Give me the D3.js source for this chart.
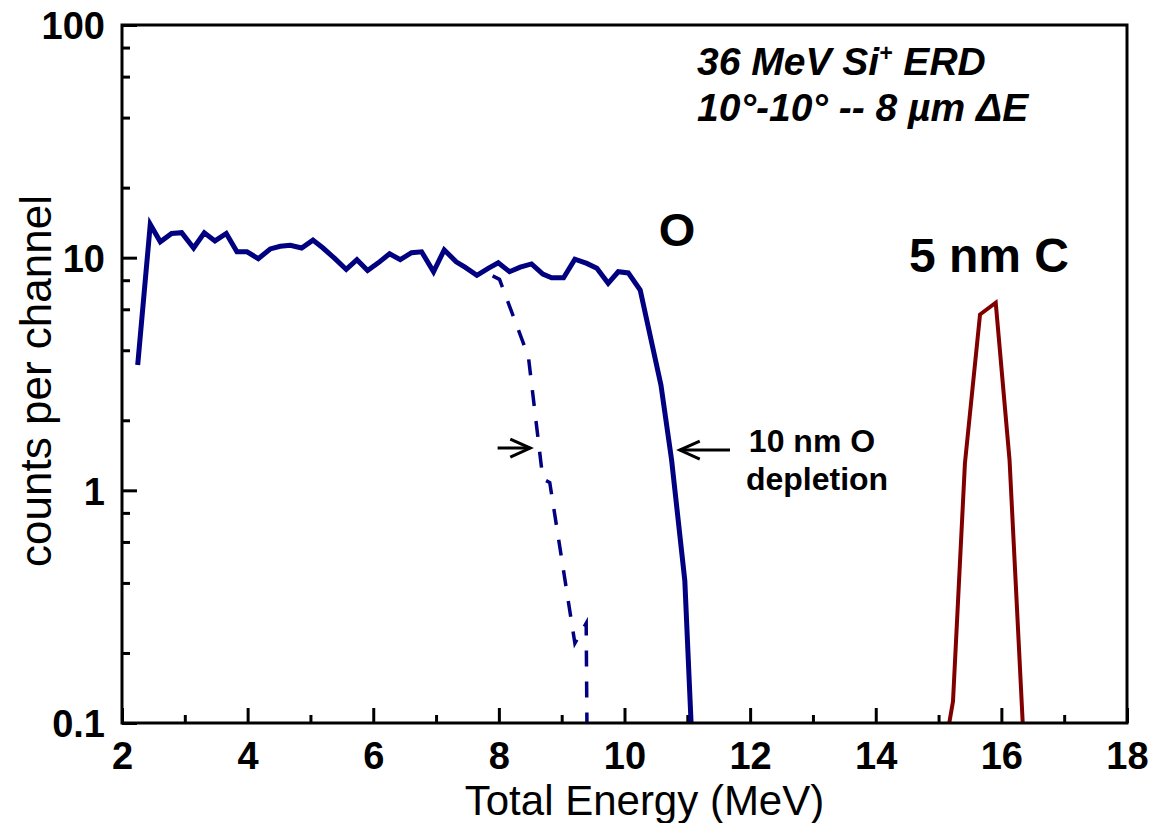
<!DOCTYPE html>
<html>
<head>
<meta charset="utf-8">
<script src="https://cdn.jsdelivr.net/npm/d3@7"></script>
<style>
  html, body { margin: 0; padding: 0; background: #fff; }
  svg { display: block; }
  text { font-family: "Liberation Sans", Arial, Helvetica, sans-serif; fill: #000; }
</style>
</head>
<body>
<svg id="chart" width="1152" height="823"></svg>
<script>
// ERD spectrum: oxygen recoils (solid), oxygen with 10 nm depletion (dashed), carbon surface layer
const oxygenEnergy = [2.25, 2.45, 2.61, 2.79, 2.95, 3.14, 3.31, 3.48, 3.66, 3.83, 3.99, 4.17, 4.36, 4.52,
  4.68, 4.86, 5.04, 5.20, 5.39, 5.57, 5.74, 5.91, 6.08, 6.26, 6.43, 6.61, 6.77, 6.96, 7.13, 7.32, 7.46,
  7.65, 7.83, 7.99, 8.17, 8.34, 8.52, 8.70, 8.84, 9.03, 9.21, 9.40, 9.56, 9.74, 9.90, 10.06, 10.25,
  10.58, 10.75, 10.96, 11.06];
const oxygenCounts = [3.46, 13.9, 11.7, 12.7, 12.8, 11.0, 12.8, 11.8, 12.7, 10.6, 10.6, 9.9, 10.9, 11.2,
  11.3, 11.0, 11.9, 11.0, 9.9, 8.9, 9.8, 8.8, 9.5, 10.4, 9.8, 10.5, 10.6, 8.7, 10.8, 9.6, 9.1,
  8.4, 9.0, 9.5, 8.7, 9.1, 9.4, 8.5, 8.2, 8.2, 9.85, 9.45, 9.0, 7.76, 8.7, 8.6, 7.26,
  2.84, 1.35, 0.41, 0.1];

const depletedEnergy = [7.90, 8.01, 8.47, 8.70, 8.81, 9.21, 9.39, 9.41];
const depletedCounts = [8.35, 8.07, 3.75, 1.12, 1.08, 0.22, 0.268, 0.05];

const carbonEnergy = [15.17, 15.23, 15.42, 15.66, 15.91, 16.13, 16.34];
const carbonCounts = [0.1, 0.124, 1.31, 5.7, 6.4, 1.35, 0.1];

const xMajorTicks = [2, 4, 6, 8, 10, 12, 14, 16, 18];
const xMinorTicks = [3, 5, 7, 9, 11, 13, 15, 17];
const yMajorTicks = [0.1, 1, 10, 100];
const yMinorTicks = [0.2, 0.4, 0.6, 0.8, 2, 4, 6, 8, 20, 40, 60, 80];
const yTickLabels = ["0.1", "1", "10", "100"];

const svg = d3.select("#chart");
const plot = { left: 122, right: 1127, top: 25, bottom: 723 };

const x = d3.scaleLinear().domain([2, 18]).range([plot.left, plot.right]);
const y = d3.scaleLog().domain([0.1, 100]).range([plot.bottom, plot.top]);

svg.append("defs").append("clipPath").attr("id", "plotClip")
  .append("rect")
  .attr("x", plot.left).attr("y", plot.top)
  .attr("width", plot.right - plot.left).attr("height", plot.bottom - plot.top);

// axes with inward ticks
const tickFont = "bold 38px 'Liberation Sans', Arial, sans-serif";

const xAxis = svg.append("g").attr("transform", `translate(0,${plot.bottom})`)
  .call(d3.axisBottom(x).tickValues(xMajorTicks).tickSize(-15).tickPadding(19).tickFormat(d3.format("d")));
svg.append("g").attr("transform", `translate(0,${plot.bottom})`)
  .call(d3.axisBottom(x).tickValues(xMinorTicks).tickSize(-8).tickFormat(""));

const yAxis = svg.append("g").attr("transform", `translate(${plot.left},0)`)
  .call(d3.axisLeft(y).tickValues(yMajorTicks).tickSize(-15).tickPadding(17)
    .tickFormat((d, i) => yTickLabels[i]));
svg.append("g").attr("transform", `translate(${plot.left},0)`)
  .call(d3.axisLeft(y).tickValues(yMinorTicks).tickSize(-8).tickFormat(""));

svg.selectAll(".domain").remove();
svg.selectAll(".tick line").attr("stroke", "#000").attr("stroke-width", 3);
svg.selectAll(".tick text").style("font", tickFont).attr("fill", "#000");
xAxis.selectAll(".tick text").attr("dy", "0.71em");
yAxis.selectAll(".tick text").attr("dy", "0.36em");

// data lines
const line = d3.line().x(d => x(d[0])).y(d => y(d[1]));
const lines = svg.append("g").attr("clip-path", "url(#plotClip)");

lines.append("path")
  .datum(oxygenEnergy.map((e, i) => [e, oxygenCounts[i]]))
  .attr("d", line).attr("fill", "none")
  .attr("stroke", "#000080").attr("stroke-width", 5).attr("stroke-linejoin", "miter");

lines.append("path")
  .datum(depletedEnergy.map((e, i) => [e, depletedCounts[i]]))
  .attr("d", line).attr("fill", "none")
  .attr("stroke", "#000080").attr("stroke-width", 3.5)
  .attr("stroke-dasharray", "16,15");

lines.append("path")
  .datum(carbonEnergy.map((e, i) => [e, carbonCounts[i]]))
  .attr("d", line).attr("fill", "none")
  .attr("stroke", "#800000").attr("stroke-width", 4);

// frame
svg.append("rect")
  .attr("x", plot.left).attr("y", plot.top)
  .attr("width", plot.right - plot.left).attr("height", plot.bottom - plot.top)
  .attr("fill", "none").attr("stroke", "#000").attr("stroke-width", 3);

// axis titles
svg.append("text")
  .attr("x", (plot.left + plot.right) / 2 + 20).attr("y", 815)
  .attr("text-anchor", "middle")
  .style("font-size", "42px")
  .text("Total Energy (MeV)");

svg.append("text")
  .attr("transform", `translate(51,381) rotate(-90)`)
  .attr("text-anchor", "middle")
  .style("font-size", "44px")
  .text("counts per channel");

// measurement conditions
const cond = svg.append("g").style("font-weight", "bold").style("font-style", "italic").style("font-size", "39px");
const l1 = cond.append("text").attr("x", 697).attr("y", 75);
l1.append("tspan").text("36 MeV Si");
l1.append("tspan").attr("dy", -14).style("font-size", "23px").text("+");
l1.append("tspan").attr("dy", 14).text(" ERD");
const l2 = cond.append("text").attr("x", 697).attr("y", 121);
l2.append("tspan").text("10°-10° -- 8 µm ");
l2.append("tspan").text("Δ");
l2.append("tspan").text("E");

// peak labels
svg.append("text").attr("x", 677).attr("y", 246).attr("text-anchor", "middle")
  .style("font-weight", "bold").style("font-size", "47px").text("O");
svg.append("text").attr("x", 989).attr("y", 272).attr("text-anchor", "middle")
  .style("font-weight", "bold").style("font-size", "48px").text("5 nm C");

const note = svg.append("g").style("font-weight", "bold").style("font-size", "32px");
note.append("text").attr("x", 812).attr("y", 452).attr("text-anchor", "middle").text("10 nm O");
note.append("text").attr("x", 817).attr("y", 490).attr("text-anchor", "middle").text("depletion");

// arrows pointing at the two leading edges
function arrow(fromE, toE, val) {
  const x0 = x(fromE), x1 = x(toE), yy = y(val);
  const dir = Math.sign(x1 - x0);
  const g = svg.append("g").attr("fill", "none").attr("stroke", "#000").attr("stroke-width", 3);
  g.append("line").attr("x1", x0).attr("y1", yy).attr("x2", x1).attr("y2", yy);
  g.append("path").attr("d", `M${x1 - dir * 20},${yy - 9}L${x1},${yy}L${x1 - dir * 20},${yy + 9}`);
}
arrow(11.68, 10.88, 1.49);
arrow(7.98, 8.5, 1.52);
</script>
</body>
</html>
